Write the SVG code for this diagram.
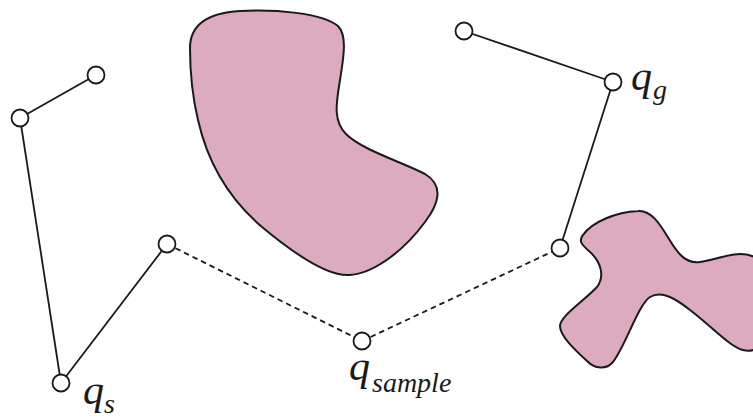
<svg xmlns="http://www.w3.org/2000/svg" width="753" height="418" viewBox="0 0 753 418">
<style>
.obs{fill:#dcabc0;stroke:#1a1a1a;stroke-width:2}
.edge{stroke:#1a1a1a;stroke-width:1.8;fill:none}
.dash{stroke-dasharray:5.5 4}
.node{fill:#fff;stroke:#1a1a1a;stroke-width:1.8}
.lbl{font-family:"Liberation Serif","Times New Roman",serif;font-style:italic;fill:#1a1a1a;font-size:42px}
.sub{font-size:28px}
</style>
<rect width="753" height="418" fill="#fff"/>
<g id="obstacle1">
<path class="obs" d="M190,48 C190,26 206,13 240,11 C275,9 322,13 338,26 C348,36 343,60 340,80 C337,100 332,120 346,134 C362,150 402,162 425,174 C445,186 438,205 425,222 C406,248 376,273 350,275 C328,277 292,252 262,227 C228,198 207,160 198,120 C192,95 190,70 190,48 Z"/>
</g>
<g id="obstacle2">
<path class="obs" d="M583,235 C592,222 616,212 638,211 C652,210 661,226 669,239 C678,254 686,264 700,262 C716,260 736,250 752,256 C772,263 772,300 771,328 C769,345 755,353 743,350 C730,347 710,325 690,310 C676,299 662,290 650,297 C638,305 626,345 613,362 C606,370 595,369 587,361 C575,350 560,336 560,326 C560,316 585,300 597,287 C605,276 601,262 590,252 C582,245 578,241 583,235 Z"/>
</g>
<g id="connectors">
<line class="edge" x1="96" y1="75" x2="20" y2="118"/>
<line class="edge" x1="20" y1="118" x2="61" y2="383"/>
<line class="edge" x1="61" y1="383" x2="167" y2="244"/>
<line class="edge dash" x1="167" y1="244" x2="362" y2="341"/>
<line class="edge dash" x1="362" y1="341" x2="560" y2="248"/>
<line class="edge" x1="560" y1="248" x2="613" y2="82"/>
<line class="edge" x1="613" y1="82" x2="464" y2="31"/>
</g>
<g id="n1"><circle class="node" cx="96" cy="75" r="8.5"/></g>
<g id="n2"><circle class="node" cx="20" cy="118" r="8.5"/></g>
<g id="qs"><circle class="node" cx="61" cy="383" r="8.5"/>
<text class="lbl" x="83" y="404">q<tspan class="sub" x="104" y="413">s</tspan></text></g>
<g id="n3"><circle class="node" cx="167" cy="244" r="8.5"/></g>
<g id="qsample"><circle class="node" cx="362" cy="341" r="8.5"/>
<text class="lbl" x="349" y="380">q<tspan class="sub" x="372" y="392">sample</tspan></text></g>
<g id="n4"><circle class="node" cx="560" cy="248" r="8.5"/></g>
<g id="qg"><circle class="node" cx="613" cy="82" r="8.5"/>
<text class="lbl" x="631" y="90">q<tspan class="sub" x="653" y="99">g</tspan></text></g>
<g id="n5"><circle class="node" cx="464" cy="31" r="8.5"/></g>
</svg>
